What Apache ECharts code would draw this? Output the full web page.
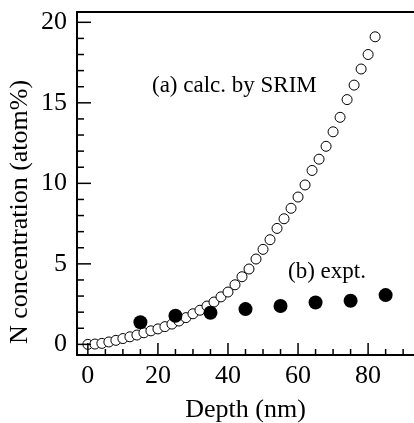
<!DOCTYPE html>
<html><head><meta charset="utf-8">
<script src="https://cdn.jsdelivr.net/npm/echarts@6/dist/echarts.min.js"></script>
<style>html,body{margin:0;padding:0;background:#fff}#c{width:414px;height:423px}</style>
</head><body><div id="c"></div>
<script>
const calcDepth = [0,2,4,6,8,10,12,14,16,18,20,22,24,26,28,30,32,34,36,38,40,42,44,46,48,50,52,54,56,58,60,62,64,66,68,70,72,74,76,78,80,82];
const calcConc = [0.00,0.02,0.06,0.15,0.25,0.36,0.47,0.58,0.72,0.84,0.96,1.10,1.26,1.45,1.66,1.90,2.12,2.38,2.63,2.95,3.25,3.70,4.20,4.68,5.30,5.90,6.50,7.20,7.80,8.45,9.15,9.90,10.8,11.5,12.3,13.2,14.1,15.2,16.1,17.1,18.0,19.1];
const exptDepth = [15,25,35,45,55,65,75,85];
const exptConc = [1.37,1.78,1.96,2.19,2.38,2.60,2.71,3.06];
const xTickLabels = [0,20,40,60,80];
const yTickLabels = [0,5,10,15,20];
const xMinorTicks = [5,10,15,25,30,35,45,50,55,65,70,75,85,90];
const yMinorTicks = [1,2,3,4,6,7,8,9,11,12,13,14,16,17,18,19];
const labelA = '(a) calc. by SRIM';
const labelB = '(b) expt.';
const xTitle = 'Depth (nm)';
const yTitle = 'N concentration (atom%)';

const FONT = '"Liberation Serif", "Times New Roman", serif';
const X_MIN = -3.1, X_MAX = 93.1, Y_MIN = -0.66, Y_MAX = 20.64;

const chart = echarts.init(document.getElementById('c'), null, {renderer: 'canvas'});
const near = (v, arr) => arr.some(t => Math.abs(t - v) < 1e-6);

function tickSeries(values, vertical, len) {
  return {
    type: 'custom', silent: true, clip: false, z: 5,
    data: values.map(v => vertical ? [v, Y_MIN] : [X_MIN, v]),
    renderItem: (params, api) => {
      const p = api.coord([api.value(0), api.value(1)]);
      const shape = vertical
        ? {x1: p[0], y1: p[1], x2: p[0], y2: p[1] - len}
        : {x1: p[0], y1: p[1], x2: p[0] + len, y2: p[1]};
      return {type: 'line', shape: shape, style: {stroke: '#000', lineWidth: 1.5}};
    }
  };
}

chart.setOption({
  animation: false,
  backgroundColor: '#fff',
  grid: {left: 77, right: 0, top: 12, bottom: 68, containLabel: false, outerBoundsMode: 'none'},
  xAxis: [{
    type: 'value', min: X_MIN, max: X_MAX, splitNumber: 5, position: 'bottom',
    axisLine: {show: true, onZero: false, lineStyle: {color: '#000', width: 2}},
    axisTick: {show: false}, minorTick: {show: false},
    splitLine: {show: false}, minorSplitLine: {show: false},
    axisLabel: {show: true, margin: 8, color: '#000', fontFamily: FONT, fontSize: 26,
      formatter: v => near(v, xTickLabels) ? String(Math.round(v)) : ''},
    name: xTitle, nameLocation: 'middle', nameGap: 42,
    nameTextStyle: {color: '#000', fontFamily: FONT, fontSize: 26}
  }, {
    type: 'value', min: X_MIN, max: X_MAX, splitNumber: 5, position: 'top',
    axisLine: {show: true, onZero: false, lineStyle: {color: '#000', width: 2}},
    axisTick: {show: false}, minorTick: {show: false},
    axisLabel: {show: false}, splitLine: {show: false}
  }],
  yAxis: [{
    type: 'value', min: Y_MIN, max: Y_MAX, splitNumber: 4, position: 'left',
    axisLine: {show: true, onZero: false, lineStyle: {color: '#000', width: 2}},
    axisTick: {show: false}, minorTick: {show: false},
    splitLine: {show: false}, minorSplitLine: {show: false},
    axisLabel: {show: true, margin: 10, color: '#000', fontFamily: FONT, fontSize: 26,
      formatter: v => near(v, yTickLabels) ? String(Math.round(v)) : ''}
  }],
  graphic: [
    {type: 'text', x: 152, y: 86, style: {text: labelA, font: '23px ' + FONT, fill: '#000', align: 'left', verticalAlign: 'middle'}},
    {type: 'text', x: 288, y: 272, style: {text: labelB, font: '23px ' + FONT, fill: '#000', align: 'left', verticalAlign: 'middle'}},
    {type: 'text', x: 20, y: 212, rotation: Math.PI / 2, style: {text: yTitle, font: '26px ' + FONT, fill: '#000', align: 'center', verticalAlign: 'middle'}}
  ],
  series: [
    tickSeries(xTickLabels, true, 12),
    tickSeries(xMinorTicks, true, 6),
    tickSeries(yTickLabels, false, 14),
    tickSeries(yMinorTicks, false, 7),
  {
    type: 'scatter', name: 'calc', symbol: 'circle', symbolSize: 10,
    itemStyle: {color: '#fff', borderColor: '#000', borderWidth: 1, opacity: 1},
    emphasis: {disabled: true},
    data: calcDepth.map((d, i) => [d, calcConc[i]])
  }, {
    type: 'scatter', name: 'expt', symbol: 'circle', symbolSize: 14,
    itemStyle: {color: '#000', opacity: 1},
    emphasis: {disabled: true},
    data: exptDepth.map((d, i) => [d, exptConc[i]])
  }]
});
</script></body></html>
